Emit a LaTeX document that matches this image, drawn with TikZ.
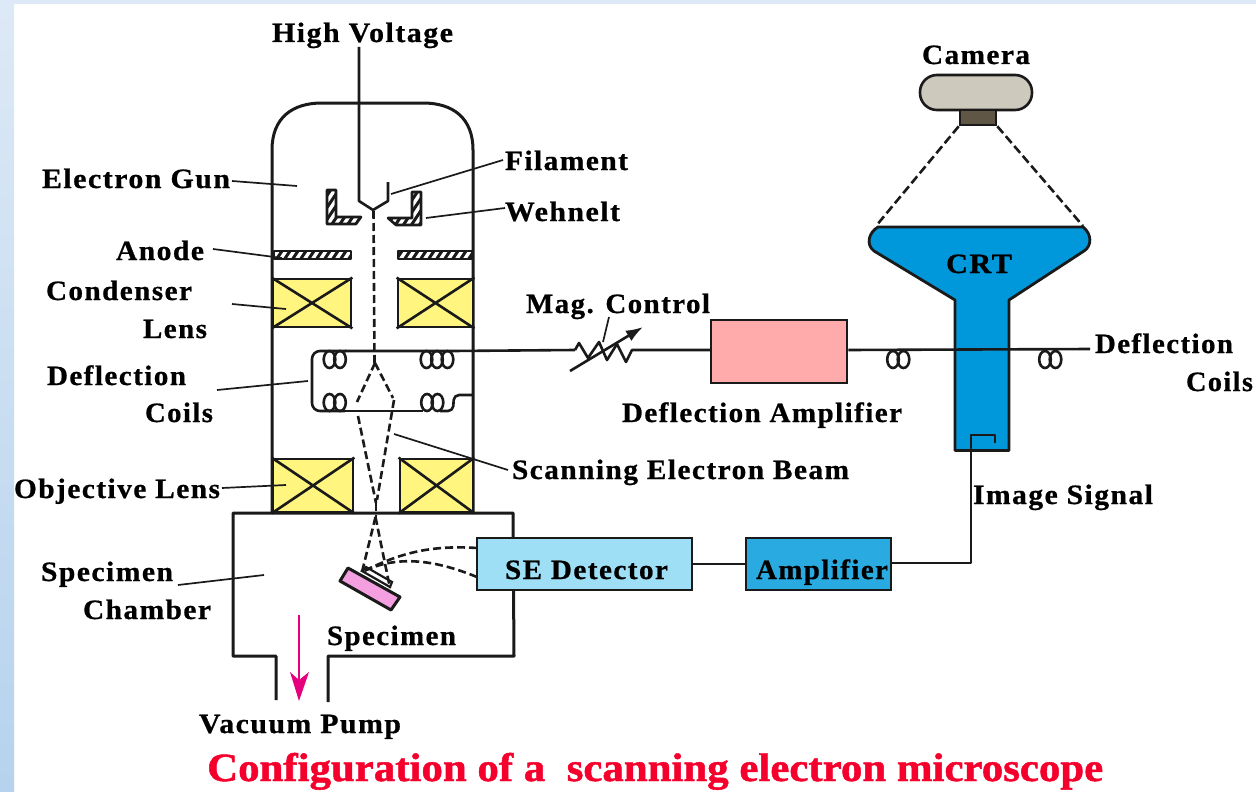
\documentclass[tikz,border=0pt]{standalone}
\usepackage{fontspec}
\usepackage{graphicx}
\setmainfont{Liberation Serif}
\newfontfamily\labfont[LetterSpace=5,FakeBold=0.7]{Liberation Serif Bold}
\newfontfamily\titlefont[FakeBold=1.2]{Liberation Serif Bold}
\usetikzlibrary{arrows.meta,calc}
\definecolor{yel}{HTML}{FFF57F}
\definecolor{crt}{HTML}{0098DA}
\definecolor{pinkbox}{HTML}{FFABAB}
\definecolor{sedet}{HTML}{9EDFF5}
\definecolor{ampl}{HTML}{29ABE2}
\definecolor{spec}{HTML}{F4A0E0}
\definecolor{cam}{HTML}{CDC9BC}
\definecolor{camd}{HTML}{5F5646}
\definecolor{pump}{HTML}{E6007E}
\definecolor{ttl}{HTML}{F5002D}
\definecolor{ink}{HTML}{1A1A1A}
\definecolor{sideA}{HTML}{DDE9F6}
\definecolor{sideB}{HTML}{B5D3EE}
\tikzset{
  wire/.style={draw=ink,line width=3pt,line join=round},
  cable/.style={draw=ink,line width=2.6pt,line join=round},
  coilw/.style={draw=ink,line width=2.6pt},
  leader/.style={draw=ink,line width=1.7pt},
  beam/.style={draw=ink,line width=2.6pt,dash pattern=on 8pt off 4pt},
  boxed/.style={draw=ink,line width=2.8pt},
  lab/.style={inner sep=0pt,outer sep=0pt,text=black},
}
\newcommand{\lab}[5]{%
  \pgfmathsetlengthmacro{\labw}{(#3)-(#2)}%
  \node[lab,anchor=base west] (#1) at (#2,#4+9)
    {\resizebox{\labw}{\height}{\fontsize{28}{30}\labfont #5}};}
\newcommand{\coilset}[3]{%
  \foreach \i in {1,...,#3} {
    \draw[coilw] ({#1+(\i-1)*10.5},#2) ellipse [x radius=5.8,y radius=8.5];
  }}
\newcommand{\xbox}[5]{%
  \node[boxed,fill=yel,minimum width=#4-#2,minimum height=#5-#3,inner sep=0pt,anchor=center] (#1) at ({(#2+#4)/2},{(#3+#5)/2}) {};
  \draw[cable] (#1.north west) -- (#1.south east) (#1.north east) -- (#1.south west);}
\newcommand{\hatched}[1]{%
  \begin{scope}
    \clip #1 -- cycle;
    \fill[white] (230,150) rectangle (500,280);
    \foreach \k in {0,8,...,320} {
      \draw[ink,line width=3pt] ({200+\k},290) -- ++(100,-150);
    }
  \end{scope}
  \draw[ink,line width=2.6pt,line join=round] #1 -- cycle;}
\begin{document}
\begin{tikzpicture}[x=1pt,y=-1pt]
\useasboundingbox (0,0) rectangle (1256,792);
% background
\fill[white] (0,0) rectangle (1256,792);
\fill[top color=sideA,bottom color=sideB] (0,0) rectangle (14,792);
\fill[sideA] (0,0) rectangle (1256,4);
% column
\draw[wire] (272,513) -- (272,150) .. controls (272,118) and (292,103) .. (322,103) -- (423,103) .. controls (453,103) and (473,118) .. (473,150) -- (473,513);
% chamber
\draw[wire] (276,700) -- (276,656) -- (233,656) -- (233,513) -- (513,513) -- (514,656) -- (328,656) -- (328,702);
% high voltage and filament
\draw[cable] (359,47) -- (359,201) -- (373,210) -- (388,201) -- (388,182);
\draw[beam] (373.5,211) -- (374.5,363);
% Wehnelt
\hatched{(327,190) -- (336,190) -- (336,217) -- (361,217) -- (356,224) -- (327,224)}
\hatched{(412,192) -- (421,192) -- (421,225) -- (396,225) -- (388,218) -- (412,218)}
% anode
\hatched{(274,251) -- (351,251) -- (351,259) -- (274,259)}
\hatched{(398,251) -- (472,251) -- (472,259) -- (398,259)}
% lenses
\xbox{cl}{273}{279}{351}{327}
\xbox{cr}{398}{279}{473}{327}
\xbox{ol}{273}{459}{353}{512}
\xbox{or}{400}{459}{473}{512}
% deflection coils
\draw[cable,rounded corners=8pt] (346,351) -- (312,351) -- (312,411) -- (345,411);
\draw[cable] (345,411) -- (423,411);
\draw[cable] (345,351) -- (453,351) -- (575,350);
\draw[cable,rounded corners=5pt] (440,411) -- (453,411) -- (454,395) -- (473,395);
\coilset{329.5}{359.5}{2}
\coilset{426.5}{359.5}{3}
\coilset{329.5}{402.5}{2}
\coilset{427}{402.5}{2}
% beam paths
\draw[beam] (375,363) -- (357,402);
\draw[beam] (375,363) -- (393,398);
\draw[beam] (358,416) -- (376,503);
\draw[beam] (394,400) -- (377,500);
\draw[beam] (376,503) -- (376,517);
% resistor
\draw[cable] (575,350) -- (579,343) -- (588,358) -- (599,342) -- (607,360) -- (617,344) -- (626,362) -- (632,350) -- (711,350);
\draw[cable,-{Latex[length=17pt,width=12pt]}] (570,371) -- (643,327);
\draw[leader] (609,317) -- (603,342);
% deflection amplifier
\node[boxed,fill=pinkbox,minimum width=136,minimum height=63,inner sep=0pt] (defamp) at (779,351.5) {};
% CRT
\draw[fill=crt,draw=ink,line width=2.8pt,line join=round] (1009,450.5) -- (1009,300) -- (1084,251) .. controls (1092,246) and (1092,234) .. (1083,227) -- (878,227) .. controls (868,233) and (866,245) .. (874,251) -- (955,300) -- (955,450.5) -- cycle;
\draw[cable] (defamp.east) ++(0,-1.5) -- (1090,349);
\coilset{893}{359.5}{2}
\coilset{1045}{359.5}{2}
% camera
\node[draw=ink,line width=2.6pt,fill=cam,rounded corners=17pt,minimum width=112,minimum height=35,inner sep=0pt] (camera) at (976,92.5) {};
\node[draw=ink,line width=2.6pt,fill=camd,minimum width=36,minimum height=15,inner sep=0pt] (lensc) at (978,117.5) {};
\draw[beam,dash pattern=on 9pt off 4pt] (lensc.south west) -- (876,226);
\draw[beam,dash pattern=on 9pt off 4pt] (lensc.south east) -- (1083,226);
% image signal
\draw[cable] (995,443) -- (995,435) -- (971,435) -- (971,563) -- (892,563);
% SE detector and amplifier
\node[boxed,fill=sedet,minimum width=215,minimum height=52,inner sep=0pt] (sed) at (584.5,564) {};
\node[boxed,fill=ampl,minimum width=145,minimum height=52,inner sep=0pt] (amp) at (818.5,564) {};
\draw[cable] (sed.east) -- (amp.west);
% specimen
\draw[fill=spec,draw=ink,line width=3pt,line join=round] (348,568) -- (400,597) -- (391,610) -- (340,581) -- cycle;
\draw[ink,line width=2.2pt,fill=white] (362,571) -- (366,567) -- (392,582) -- (390,587) -- cycle;
\draw[beam] (375.5,517) -- (362,572);
\draw[beam] (375.5,517) -- (390,588);
\draw[beam] (477,548) .. controls (430,545) and (400,553) .. (362,572);
\draw[beam] (477,577) .. controls (440,562) and (400,553) .. (362,572);
% pump arrow
\draw[pump,line width=2.6pt] (299,615) -- (299,685);
\fill[pump] (299,701) -- (290,672) -- (299,680) -- (309,672) -- cycle;
% leaders
\draw[leader] (232,181) -- (297,186);
\draw[leader] (391,194) -- (503,160);
\draw[leader] (426,218) -- (505,208);
\draw[leader] (213,249) -- (282,258);
\draw[leader] (232,304) -- (286,309);
\draw[leader] (217,390) -- (308,381);
\draw[leader] (394,434) -- (508,470);
\draw[leader] (222,488) -- (286,485);
\draw[leader] (178,585) -- (264,575);
% labels
\lab{hv}{272}{453}{33}{High Voltage}
\lab{camt}{922}{1030}{55}{Camera}
\lab{fil}{505}{628}{161}{Filament}
\lab{eg}{42}{230}{179}{Electron Gun}
\lab{weh}{505}{620}{212}{Wehnelt}
\lab{ano}{116}{204}{251}{Anode}
\lab{con}{46}{192}{291}{Condenser}
\lab{lns}{143}{207}{329}{Lens}
\lab{mag}{526}{710}{304}{Mag. Control}
\lab{crtl}{946}{1012}{264}{CRT}
\lab{def}{47}{186}{376}{Deflection}
\lab{coi}{145}{213}{413}{Coils}
\lab{dam}{622}{902}{413}{Deflection Amplifier}
\lab{def2}{1095}{1233}{344}{Deflection}
\lab{coi2}{1186}{1253}{382}{Coils}
\lab{sca}{512}{849}{470}{Scanning Electron Beam}
\lab{obj}{14}{220}{489}{Objective Lens}
\lab{ima}{973}{1153}{495}{Image Signal}
\lab{spc}{41}{173}{572}{Specimen}
\lab{cha}{83}{211}{610}{Chamber}
\lab{sel}{505}{668}{570}{SE Detector}
\lab{aml}{756}{888}{570}{Amplifier}
\lab{sp2}{327}{456}{636}{Specimen}
\lab{vac}{199}{401}{724}{Vacuum Pump}
\node[anchor=base west,inner sep=0pt,text=ttl] (title) at (207,781)
  {\resizebox{896pt}{\height}{\fontsize{40}{42}\titlefont Configuration of a\ \ scanning electron microscope}};
\end{tikzpicture}
\end{document}
